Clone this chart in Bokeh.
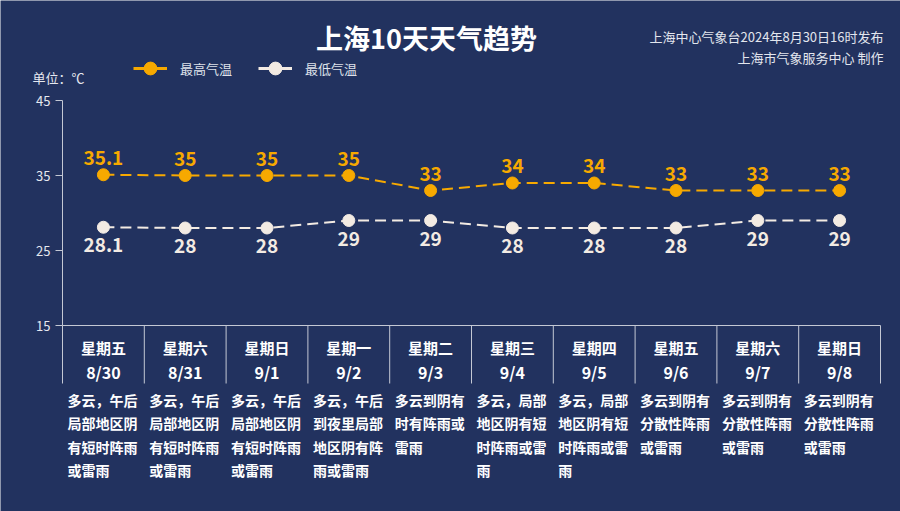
from bokeh.plotting import figure
from bokeh.models import (Range1d, LinearAxis, FixedTicker, ColumnDataSource,
                          Legend, LegendItem)
from bokeh.core.properties import value
from bokeh.embed import file_html
from bokeh.resources import INLINE

# ---------------- data ----------------
dates = ["8/30", "8/31", "9/1", "9/2", "9/3", "9/4", "9/5", "9/6", "9/7", "9/8"]
weekdays = ["星期五", "星期六", "星期日", "星期一", "星期二",
            "星期三", "星期四", "星期五", "星期六", "星期日"]
high = [35.1, 35, 35, 35, 33, 34, 34, 33, 33, 33]
low = [28.1, 28, 28, 29, 29, 28, 28, 28, 29, 29]
weather = [
    "多云，午后局部地区阴有短时阵雨或雷雨",
    "多云，午后局部地区阴有短时阵雨或雷雨",
    "多云，午后局部地区阴有短时阵雨或雷雨",
    "多云，午后到夜里局部地区阴有阵雨或雷雨",
    "多云到阴有时有阵雨或雷雨",
    "多云，局部地区阴有短时阵雨或雷雨",
    "多云，局部地区阴有短时阵雨或雷雨",
    "多云到阴有分散性阵雨或雷雨",
    "多云到阴有分散性阵雨或雷雨",
    "多云到阴有分散性阵雨或雷雨",
]
y_ticks = [15, 25, 35, 45]
title_text = "上海10天天气趋势"
note1 = "上海中心气象台2024年8月30日16时发布"
note2 = "上海市气象服务中心 制作"
unit_text = "单位：℃"
series_names = ["最高气温", "最低气温"]

# ---------------- layout ----------------
W, H = 900, 511
BG = "#22325f"
FONT = "Noto Sans CJK SC"
ORANGE = "#f7a900"
CREAM = "#f3ebe3"
AXIS_C = "#c4c8d4"
TXT = "#ffffff"

AX_X = 62          # page px of value-axis line
CAT_W = 81.8       # px per category
DEG = 7.5          # px per degree
TOP45 = 100        # page px of value 45
n = len(dates)

x_start = -AX_X / CAT_W
x_end = n + (W - AX_X - n * CAT_W) / CAT_W
y_top = y_ticks[-1] + TOP45 / DEG
y_bot = y_ticks[-1] - (H - TOP45) / DEG


def X(px):  # page px -> data x
    return (px - AX_X) / CAT_W


def Y(py):  # page px -> data y
    return y_ticks[-1] - (py - TOP45) / DEG


p = figure(width=W, height=H, x_range=Range1d(x_start, x_end), y_range=Range1d(y_bot, y_top),
           x_axis_location=None, y_axis_location=None,
           toolbar_location=None, output_backend="svg",
           min_border_left=0, min_border_right=0, min_border_top=0, min_border_bottom=0,
           background_fill_color=BG, border_fill_color=BG, outline_line_color=None)
p.grid.visible = False

yaxis = LinearAxis(ticker=FixedTicker(ticks=y_ticks), bounds=(y_ticks[0], y_ticks[-1]),
                   fixed_location=0,
                   axis_line_color=AXIS_C, axis_line_width=1,
                   major_tick_line_color=AXIS_C, major_tick_out=7, major_tick_in=0,
                   minor_tick_line_color=None, major_label_standoff=5,
                   major_label_text_color="#e6e8ef", major_label_text_font=FONT,
                   major_label_text_font_size="13px")
p.add_layout(yaxis, "left")

# x axis line and column separators
centers = [i + 0.5 for i in range(n)]
p.segment(x0=[0], x1=[n], y0=[y_ticks[0]], y1=[y_ticks[0]], line_color=AXIS_C, line_width=1)
sep_y1 = y_ticks[0] - 58 / DEG
p.segment(x0=list(range(n + 1)), x1=list(range(n + 1)),
          y0=[y_ticks[0]] * (n + 1), y1=[sep_y1] * (n + 1), line_color=AXIS_C, line_width=1)

# series
src = ColumnDataSource(dict(x=centers, high=high, low=low,
                            hl=[f"{v:g}" for v in high], ll=[f"{v:g}" for v in low]))
p.line("x", "high", source=src, line_color=ORANGE, line_width=2, line_dash="11 6")
p.scatter("x", "high", source=src, size=12, fill_color=ORANGE, line_color=ORANGE)
p.line("x", "low", source=src, line_color=CREAM, line_width=2, line_dash="11 6")
p.scatter("x", "low", source=src, size=12, fill_color=CREAM, line_color=CREAM)

p.text("x", "high", text="hl", source=src, y_offset=-17, text_align="center",
       text_baseline="middle", text_color=ORANGE, text_font=value(FONT),
       text_font_size="19px", text_font_style="bold")
p.text("x", "low", text="ll", source=src, y_offset=18, text_align="center",
       text_baseline="middle", text_color=CREAM, text_font=value(FONT),
       text_font_size="19px", text_font_style="bold")

# legend proxies (solid line + marker, as in the legend of the original)
nan = float("nan")
lg_lh = p.line(x=[nan], y=[nan], line_color=ORANGE, line_width=3)
lg_sh = p.scatter(x=[nan], y=[nan], size=13, fill_color=ORANGE, line_color=ORANGE)
lg_ll = p.line(x=[nan], y=[nan], line_color=CREAM, line_width=3)
lg_sl = p.scatter(x=[nan], y=[nan], size=13, fill_color=CREAM, line_color=CREAM)

# category labels
cat_src = ColumnDataSource(dict(x=centers, wd=weekdays, d=dates))
p.text("x", Y(347), text="wd", source=cat_src, text_align="center", text_baseline="middle",
       text_color=TXT, text_font=value(FONT), text_font_size="15px", text_font_style="bold")
p.text("x", Y(371), text="d", source=cat_src, text_align="center", text_baseline="middle",
       text_color=TXT, text_font=value(FONT), text_font_size="16px", text_font_style="bold")

# weather descriptions (5 chars per line)
wx, wy, wt = [], [], []
for i, s in enumerate(weather):
    lines = [s[k:k + 5] for k in range(0, len(s), 5)]
    for j, t in enumerate(lines):
        wx.append(i)
        wy.append(Y(399 + j * 23.5))
        wt.append(t)
p.text(x=wx, y=wy, text=wt, x_offset=5, text_align="left", text_baseline="middle",
       text_color=TXT, text_font=value(FONT), text_font_size="14px", text_font_style="bold")

# titles
p.text(x=[X(426)], y=[Y(37)], text=[title_text], text_align="center",
       text_baseline="middle", text_color="#ffffff", text_font=value(FONT),
       text_font_size="27px", text_font_style="bold")
p.text(x=[X(883), X(883)], y=[Y(36), Y(57)], text=[note1, note2], text_align="right",
       text_baseline="middle", text_color="#e3e6ee", text_font=value(FONT),
       text_font_size="13px")
p.text(x=[X(32)], y=[Y(77)], text=[unit_text], text_align="left",
       text_baseline="middle", text_color="#e6e8ef", text_font=value(FONT),
       text_font_size="13px")

legend = Legend(items=[LegendItem(label=series_names[0], renderers=[lg_lh, lg_sh]),
                       LegendItem(label=series_names[1], renderers=[lg_ll, lg_sl])],
                orientation="horizontal", location=(133, H - 84),
                padding=0, margin=0, spacing=26, glyph_width=34, glyph_height=32,
                label_standoff=13, label_text_color="#dfe2ea", label_text_font=FONT,
                label_text_font_size="13px", label_height=32,
                background_fill_alpha=0, border_line_color=None)
p.add_layout(legend)

open("out.html", "w").write(file_html(p, INLINE))
